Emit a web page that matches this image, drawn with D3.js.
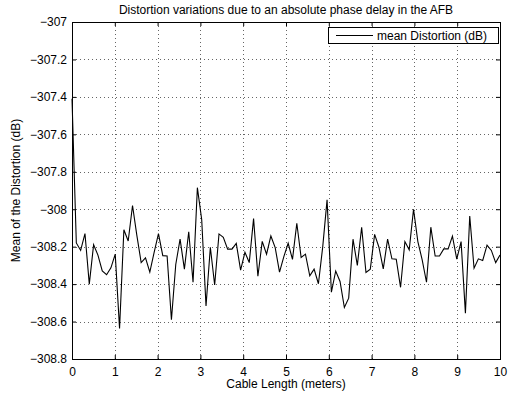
<!DOCTYPE html>
<html>
<head>
<meta charset="utf-8">
<script src="https://cdn.jsdelivr.net/npm/d3@7"></script>
<style>
  body { margin: 0; background: #fff; }
  svg text { font-family: "Liberation Sans", Arial, Helvetica, sans-serif; fill: #000; }
</style>
</head>
<body>
<svg id="chart"></svg>
<script>
// mean distortion (dB), 100 samples between 0 and 10 m of cable
let meanDistortion = [
  -307.41, -308.18, -308.22, -308.13, -308.40, -308.19, -308.245, -308.33, -308.35, -308.313,
  -308.24, -308.637, -308.11, -308.17, -307.98, -308.14, -308.285, -308.26, -308.336, -308.23,
  -308.13, -308.248, -308.25, -308.59, -308.295, -308.16, -308.32, -308.12, -308.39, -307.885,
  -308.055, -308.517, -308.203, -308.405, -308.132, -308.15, -308.213, -308.213, -308.182, -308.325,
  -308.23, -308.285, -308.05, -308.358, -308.172, -308.24, -308.143, -308.205, -308.336, -308.253,
  -308.182, -308.268, -308.075, -308.258, -308.24, -308.356, -308.32, -308.398, -308.20, -307.95,
  -308.443, -308.33, -308.386, -308.525, -308.475, -308.16, -308.30, -308.096, -308.338, -308.32,
  -308.134, -308.203, -308.319, -308.16, -308.265, -308.267, -308.417, -308.173, -308.217, -308.0,
  -308.173, -308.27, -308.39, -308.096, -308.25, -308.25, -308.212, -308.212, -308.144, -308.267,
  -308.173, -308.555, -308.036, -308.315, -308.265, -308.274, -308.192, -308.22, -308.285, -308.244
]

let lengthStart = 0
let lengthEnd = 10

let xTicks = [0, 1, 2, 3, 4, 5, 6, 7, 8, 9, 10]
let yTicks = [-308.8, -308.6, -308.4, -308.2, -308, -307.8, -307.6, -307.4, -307.2, -307]
let yTickLabels = ['\u2212308.8', '\u2212308.6', '\u2212308.4', '\u2212308.2', '\u2212308',
                   '\u2212307.8', '\u2212307.6', '\u2212307.4', '\u2212307.2', '\u2212307']

let titleText = 'Distortion variations due to an absolute phase delay in the AFB'
let xLabelText = 'Cable Length (meters)'
let yLabelText = 'Mean of the Distortion (dB)'
let legendText = 'mean Distortion (dB)'

const w = 509
const h = 397
const pLeft = 72
const pRight = 500
const pTop = 22
const pBottom = 359
const fs = 12

let svg = d3.select('#chart').attr('width', w).attr('height', h)

let step = (lengthEnd - lengthStart) / (meanDistortion.length - 1)
let values = meanDistortion.map((v, i) => [lengthStart + i * step, v])

let xScale = d3.scaleLinear().domain([0, 10]).range([pLeft, pRight])
let yScale = d3.scaleLinear().domain([-308.8, -307]).range([pBottom, pTop])

// grid
let grid = svg.append('g').attr('stroke', '#000').attr('stroke-width', 1)
  .attr('stroke-dasharray', '1,3').attr('opacity', 0.6)
grid.selectAll('.gx')
  .data(xTicks.slice(1, -1))
  .enter()
  .append('line')
  .attr('x1', d => Math.round(xScale(d)) + 0.5)
  .attr('x2', d => Math.round(xScale(d)) + 0.5)
  .attr('y1', pTop)
  .attr('y2', pBottom)
grid.selectAll('.gy')
  .data(yTicks.slice(1, -1))
  .enter()
  .append('line')
  .attr('y1', d => Math.round(yScale(d)) + 0.5)
  .attr('y2', d => Math.round(yScale(d)) + 0.5)
  .attr('x1', pLeft)
  .attr('x2', pRight)

// axes, ticks pointing in
let xAxis = d3.axisBottom(xScale).tickValues(xTicks).tickSizeInner(-4).tickSizeOuter(0).tickPadding(8)
svg.append('g').attr('transform', 'translate(0,' + pBottom + ')').call(xAxis)
let xTopAxis = d3.axisTop(xScale).tickValues(xTicks).tickSizeInner(-4).tickSizeOuter(0).tickFormat('')
svg.append('g').attr('transform', 'translate(0,' + pTop + ')').call(xTopAxis)

let yAxis = d3.axisLeft(yScale).tickValues(yTicks).tickSizeInner(-4).tickSizeOuter(0).tickPadding(5)
  .tickFormat((d, i) => yTickLabels[i])
svg.append('g').attr('transform', 'translate(' + pLeft + ',0)').call(yAxis)
let yRightAxis = d3.axisRight(yScale).tickValues(yTicks).tickSizeInner(-4).tickSizeOuter(0).tickFormat('')
svg.append('g').attr('transform', 'translate(' + pRight + ',0)').call(yRightAxis)

svg.selectAll('.domain').remove()
svg.selectAll('.tick line').attr('stroke', '#000')
svg.selectAll('.tick text').attr('font-size', fs).attr('font-family', '"Liberation Sans", Arial, sans-serif')

// data line
let line = d3.line().x(d => xScale(d[0])).y(d => yScale(d[1]))
svg.append('path')
  .datum(values)
  .attr('d', line)
  .attr('fill', 'none')
  .attr('stroke', '#000')
  .attr('stroke-width', 1.1)

// box
svg.append('rect')
  .attr('x', pLeft + 0.5).attr('y', pTop + 0.5)
  .attr('width', pRight - pLeft).attr('height', pBottom - pTop)
  .attr('fill', 'none').attr('stroke', '#000').attr('stroke-width', 1)

// legend
let legend = svg.append('g')
legend.append('rect')
  .attr('x', 328.5).attr('y', 27.5).attr('width', 170).attr('height', 16)
  .attr('fill', '#fff').attr('stroke', '#000')
legend.append('line')
  .attr('x1', 336).attr('x2', 373).attr('y1', 35.5).attr('y2', 35.5)
  .attr('stroke', '#000')
legend.append('text')
  .attr('x', 377).attr('y', 40).attr('font-size', fs)
  .text(legendText)

// labels
svg.append('text')
  .attr('x', (pLeft + pRight) / 2).attr('y', 14)
  .attr('text-anchor', 'middle').attr('font-size', fs)
  .text(titleText)
svg.append('text')
  .attr('x', (pLeft + pRight) / 2).attr('y', 388)
  .attr('text-anchor', 'middle').attr('font-size', fs)
  .text(xLabelText)
svg.append('text')
  .attr('transform', 'translate(20,' + (pTop + pBottom) / 2 + ') rotate(-90)')
  .attr('text-anchor', 'middle').attr('font-size', fs)
  .text(yLabelText)
</script>
</body>
</html>
